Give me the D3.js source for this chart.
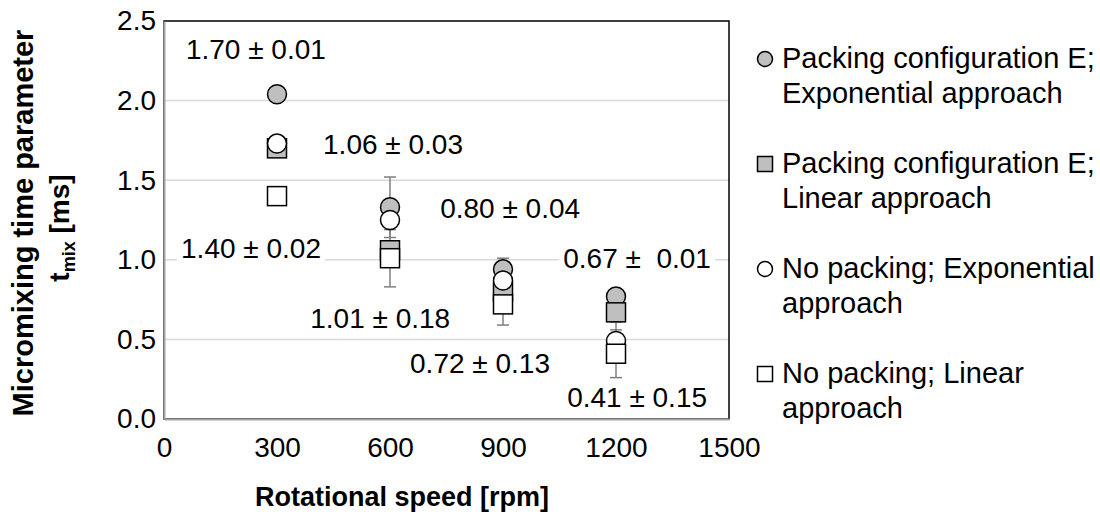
<!DOCTYPE html>
<html>
<head>
<meta charset="utf-8">
<script src="https://cdn.jsdelivr.net/npm/d3@7"></script>
<style>
  body { margin: 0; background: #fff; }
  text { font-family: "Liberation Sans", Arial, sans-serif; fill: #000; }
</style>
</head>
<body>
<div id="chart"></div>
<script>
// rotational speeds [rpm]
var speeds = [300, 600, 900, 1200];

// micromixing time parameter t_mix [ms]
var packExp = [2.04, 1.33, 0.94, 0.77];
var packLin = [1.70, 1.06, 0.80, 0.67];
var noPackExp = [1.73, 1.25, 0.87, 0.49];
var noPackLin = [1.40, 1.01, 0.72, 0.41];

// error bars (+/-)
var packExpErr = [0.01, 0.19, 0.07, 0.01];
var packLinErr = [0.01, 0.03, 0.04, 0.01];
var noPackExpErr = [0.02, 0.03, 0.03, 0.12];
var noPackLinErr = [0.02, 0.18, 0.13, 0.15];

var xTicks = [0, 300, 600, 900, 1200, 1500];
var yTicks = [0, 0.5, 1.0, 1.5, 2.0, 2.5];

// value labels, anchored in data units (rpm, ms)
var labelText = ['1.70 ± 0.01', '1.06 ± 0.03', '0.80 ± 0.04', '1.40 ± 0.02',
  '0.67 ±  0.01', '1.01 ± 0.18', '0.72 ± 0.13', '0.41 ± 0.15'];
var labelX = [244, 608, 919, 231, 1256, 574, 839, 1256];
var labelY = [2.26, 1.665, 1.263, 1.011, 0.948, 0.572, 0.289, 0.075];

var legendNames = [
  ['Packing configuration E;', 'Exponential approach'],
  ['Packing configuration E;', 'Linear approach'],
  ['No packing; Exponential', 'approach'],
  ['No packing; Linear', 'approach']
];

var series = [
  {values: packExp, err: packExpErr, shape: 'circle', fill: '#bfbfbf'},
  {values: packLin, err: packLinErr, shape: 'square', fill: '#bfbfbf'},
  {values: noPackExp, err: noPackExpErr, shape: 'circle', fill: '#ffffff'},
  {values: noPackLin, err: noPackLinErr, shape: 'square', fill: '#ffffff'}
];

var svg = d3.select('#chart').append('svg')
    .attr('width', 1100)
    .attr('height', 523),
  margin = {top: 21, right: 371, bottom: 104, left: 164},
  width = svg.attr('width') - margin.left - margin.right,
  height = svg.attr('height') - margin.top - margin.bottom,
  g = svg.append('g').attr('transform', 'translate(' + margin.left + ',' + margin.top + ')');

var x = d3.scaleLinear().domain([0, 1500]).range([0, width]),
  y = d3.scaleLinear().domain([0, 2.5]).range([height, 0]);

var fontSize = 28;

// gridlines
g.selectAll('.grid')
  .data(yTicks.filter(function(d) { return d > 0 && d < 2.5; }))
  .enter().append('line')
  .attr('x1', 0).attr('x2', width)
  .attr('y1', function(d) { return y(d); })
  .attr('y2', function(d) { return y(d); })
  .attr('stroke', '#d9d9d9')
  .attr('stroke-width', 1.5);

// plot border
g.append('rect')
  .attr('width', width).attr('height', height)
  .attr('fill', 'none')
  .attr('stroke', '#000')
  .attr('stroke-width', 1.5);

// axes
var xAxis = g.append('g')
  .attr('transform', 'translate(0,' + height + ')')
  .call(d3.axisBottom(x).tickValues(xTicks).tickSize(0).tickPadding(18).tickFormat(d3.format('d')));
var yAxis = g.append('g')
  .call(d3.axisLeft(y).tickValues(yTicks).tickSize(0).tickPadding(8).tickFormat(d3.format('.1f')));
[xAxis, yAxis].forEach(function(a) {
  a.select('.domain').attr('stroke', '#a6a6a6').attr('stroke-width', 2);
  a.selectAll('text').style('font-size', fontSize + 'px').style('font-family', '"Liberation Sans", Arial, sans-serif').attr('fill', '#000');
});

// error bars
var errG = g.append('g');
series.forEach(function(s) {
  s.values.forEach(function(v, i) {
    var cx = x(speeds[i]);
    var e = errG.append('g').attr('stroke', '#7f7f7f').attr('stroke-width', 1.5);
    e.append('line').attr('x1', cx).attr('x2', cx).attr('y1', y(v - s.err[i])).attr('y2', y(v + s.err[i]));
    e.append('line').attr('x1', cx - 6).attr('x2', cx + 6).attr('y1', y(v - s.err[i])).attr('y2', y(v - s.err[i]));
    e.append('line').attr('x1', cx - 6).attr('x2', cx + 6).attr('y1', y(v + s.err[i])).attr('y2', y(v + s.err[i]));
  });
});

function drawMarker(sel, shape, fill, cx, cy, size) {
  if (shape === 'circle') {
    sel.append('circle').attr('cx', cx).attr('cy', cy).attr('r', size / 2)
      .attr('fill', fill).attr('stroke', '#000').attr('stroke-width', 1.5);
  } else {
    sel.append('rect').attr('x', cx - size / 2).attr('y', cy - size / 2)
      .attr('width', size).attr('height', size)
      .attr('fill', fill).attr('stroke', '#000').attr('stroke-width', 1.5);
  }
}

// markers
series.forEach(function(s) {
  var sg = g.append('g');
  s.values.forEach(function(v, i) {
    drawMarker(sg, s.shape, s.fill, x(speeds[i]), y(v), 19);
  });
});

// value labels with white background
labelText.forEach(function(t, i) {
  var lg = g.append('g');
  var txt = lg.append('text')
    .attr('x', x(labelX[i]))
    .attr('y', y(labelY[i]))
    .attr('text-anchor', 'middle')
    .style('font-size', fontSize + 'px')
    .style('white-space', 'pre')
    .text(t);
  var bb = txt.node().getBBox();
  lg.insert('rect', 'text')
    .attr('x', bb.x - 4).attr('y', bb.y)
    .attr('width', bb.width + 8).attr('height', bb.height)
    .attr('fill', '#fff');
});

// x axis title
svg.append('text')
  .attr('x', 402)
  .attr('y', 506)
  .attr('text-anchor', 'middle')
  .style('font-size', '27px')
  .style('font-weight', 'bold')
  .text('Rotational speed [rpm]');

// y axis title (two lines)
var yt = svg.append('g').attr('transform', 'translate(33,223) rotate(-90)');
yt.append('text')
  .attr('text-anchor', 'middle')
  .style('font-size', '29px')
  .style('font-weight', 'bold')
  .text('Micromixing time parameter');
var yt2 = yt.append('text')
  .attr('x', -5)
  .attr('y', 36)
  .attr('text-anchor', 'middle')
  .style('font-size', '28px')
  .style('font-weight', 'bold');
yt2.append('tspan').text('t');
yt2.append('tspan').attr('dy', 6).style('font-size', '18px').text('mix');
yt2.append('tspan').attr('dy', -6).text(' [ms]');

// legend
var legend = svg.append('g').attr('transform', 'translate(765,0)');
var legendBaseline = [68, 173, 278, 383];
series.forEach(function(s, i) {
  var lg = legend.append('g').attr('transform', 'translate(0,' + legendBaseline[i] + ')');
  drawMarker(lg, s.shape, s.fill, 0, -9, 15);
  lg.selectAll('text')
    .data(legendNames[i])
    .enter().append('text')
    .attr('x', 17)
    .attr('y', function(d, j) { return j * 35; })
    .style('font-size', '29px')
    .text(function(d) { return d; });
});
</script>
</body>
</html>
